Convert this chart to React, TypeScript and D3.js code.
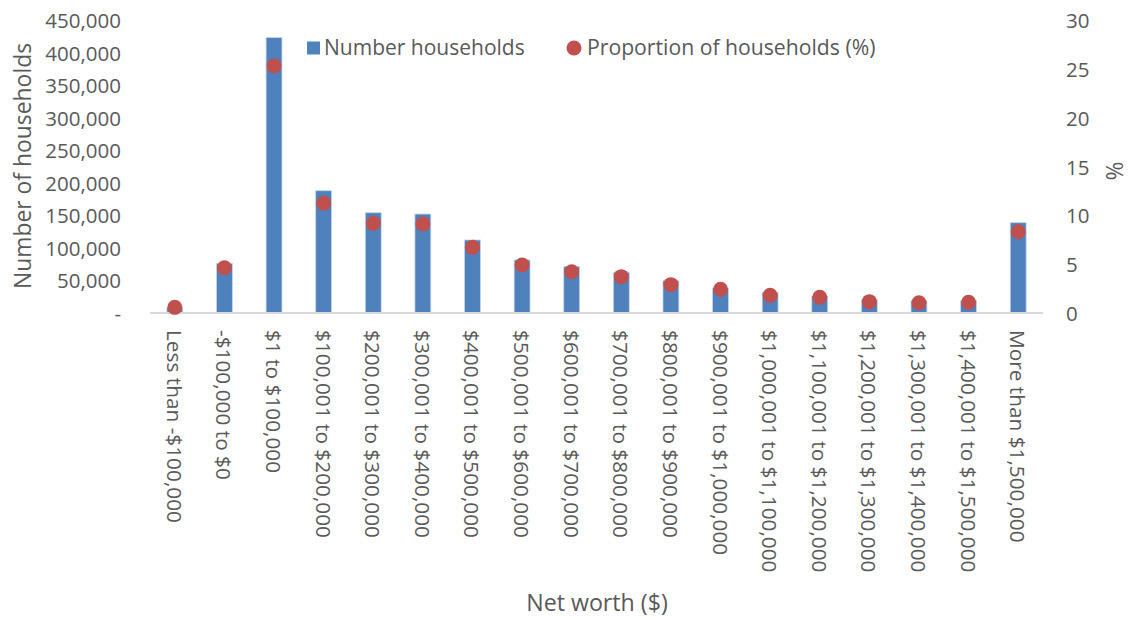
import React from "react";
import * as d3 from "d3";

const categories = [
  "Less than -$100,000",
  "-$100,000 to $0",
  "$1 to $100,000",
  "$100,001 to $200,000",
  "$200,001 to $300,000",
  "$300,001 to $400,000",
  "$400,001 to $500,000",
  "$500,001 to $600,000",
  "$600,001 to $700,000",
  "$700,001 to $800,000",
  "$800,001 to $900,000",
  "$900,001 to $1,000,000",
  "$1,000,001 to $1,100,000",
  "$1,100,001 to $1,200,000",
  "$1,200,001 to $1,300,000",
  "$1,300,001 to $1,400,000",
  "$1,400,001 to $1,500,000",
  "More than $1,500,000",
];

const numberHouseholds = [
  8000, 76300, 423000, 187800, 154000, 152000, 112100, 81400, 71100, 62500,
  49600, 37900, 31200, 26100, 20000, 18900, 18900, 138700,
];

const proportionPct = [
  0.58, 4.64, 25.3, 11.23, 9.18, 9.11, 6.72, 4.91, 4.23, 3.72, 2.9, 2.43,
  1.81, 1.61, 1.16, 1.05, 1.1, 8.32,
];

const leftTicks = [0, 50000, 100000, 150000, 200000, 250000, 300000, 350000, 400000, 450000];
const rightTicks = [0, 5, 10, 15, 20, 25, 30];

const W = 1129;
const H = 618;
const FONT = "'Open Sans', 'DejaVu Sans', sans-serif";
const TEXT = "#595959";

export default function App() {
  const x = d3
    .scaleBand<string>()
    .domain(categories)
    .range([150, 1043])
    .paddingInner(0.68)
    .paddingOuter(0.34);
  const yL = d3.scaleLinear().domain([0, 450000]).range([313, 20]);
  const yR = d3.scaleLinear().domain([0, 30]).range([313, 20]);
  const fmt = d3.format(",");

  return (
    <svg
      width={W}
      height={H}
      style={{ position: "absolute", left: 0, top: 0, display: "block", background: "#fff" }}
      fontFamily={FONT}
    >
      {/* bars */}
      {categories.map((c, i) => (
        <rect
          key={c}
          x={x(c)!}
          y={yL(numberHouseholds[i])}
          width={x.bandwidth()}
          height={yL(0) - yL(numberHouseholds[i])}
          fill="#4F81BD"
          stroke="#c3d3ea"
          strokeWidth={0.8}
        />
      ))}
      {/* axis line */}
      <line x1={150} x2={1043} y1={yL(0)} y2={yL(0)} stroke="#d9d9d9" strokeWidth={2} />
      {/* dots */}
      {categories.map((c, i) => (
        <circle
          key={c}
          cx={x(c)! + x.bandwidth() / 2}
          cy={yR(proportionPct[i])}
          r={7.5}
          fill="#C0504D"
        />
      ))}
      {/* left ticks */}
      {leftTicks.map((t) => (
        <text
          key={t}
          x={121}
          y={yL(t)}
          textAnchor="end"
          dominantBaseline="central"
          fontSize={20.5}
          fill={TEXT}
        >
          {t === 0 ? "-" : fmt(t)}
        </text>
      ))}
      {/* right ticks */}
      {rightTicks.map((t) => (
        <text
          key={t}
          x={1066}
          y={yR(t)}
          textAnchor="start"
          dominantBaseline="central"
          fontSize={20.5}
          fill={TEXT}
        >
          {t}
        </text>
      ))}
      {/* category labels */}
      {categories.map((c) => (
        <text
          key={c}
          transform={`translate(${x(c)! + x.bandwidth() / 2},330) rotate(90)`}
          textAnchor="start"
          dominantBaseline="central"
          fontSize={20.8}
          fill={TEXT}
        >
          {c}
        </text>
      ))}
      {/* axis titles */}
      <text
        transform="translate(31,166) rotate(-90)"
        textAnchor="middle"
        fontSize={22.9}
        fill={TEXT}
      >
        Number of households
      </text>
      <text
        transform="translate(1123,171) rotate(-90)"
        textAnchor="middle"
        fontSize={23}
        fill={TEXT}
      >
        %
      </text>
      <text x={597} y={611} textAnchor="middle" fontSize={23.2} fill={TEXT}>
        Net worth ($)
      </text>
      {/* legend */}
      <rect x={307} y={41.5} width={13} height={13} fill="#4F81BD" />
      <text x={324} y={55} fontSize={21} fill={TEXT}>
        Number households
      </text>
      <circle cx={574} cy={48} r={7.5} fill="#C0504D" />
      <text x={587} y={55} fontSize={21.2} fill={TEXT}>
        Proportion of households (%)
      </text>
    </svg>
  );
}
